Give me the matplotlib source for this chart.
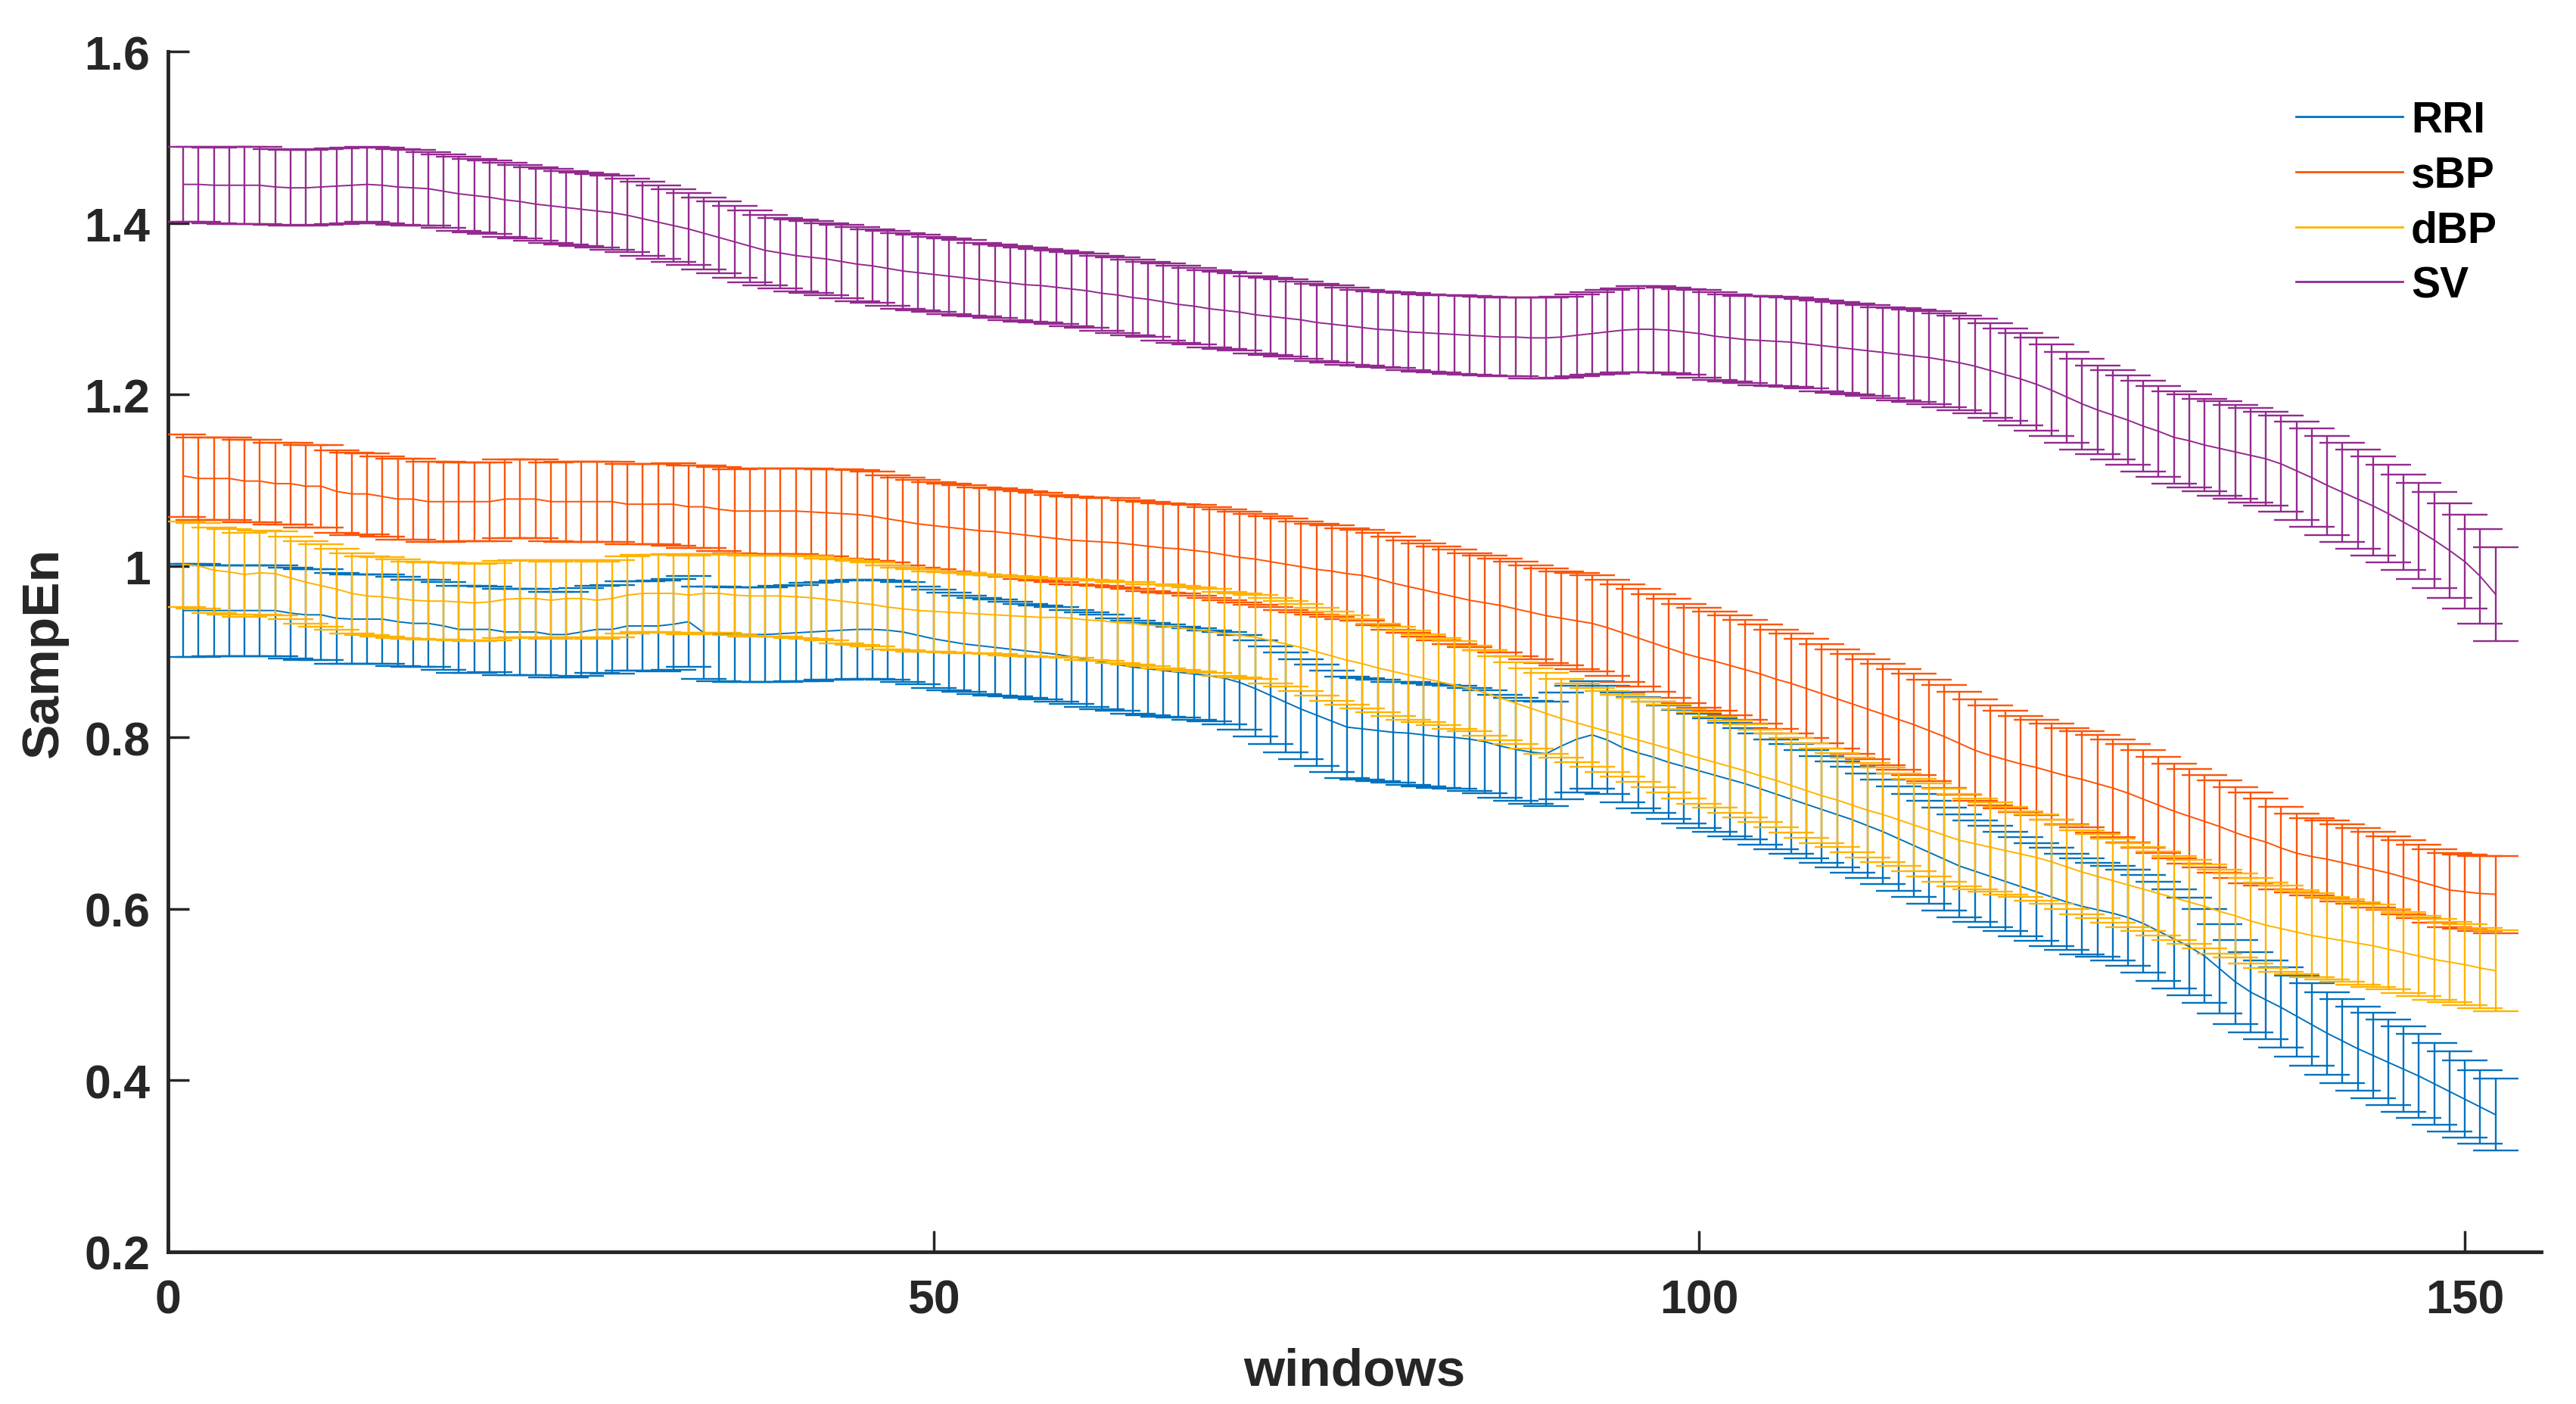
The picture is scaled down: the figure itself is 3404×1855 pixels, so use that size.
# Mean SampEn per window for RRI / sBP / dBP / SV with error bars
# (MATLAB style errorbar plot redrawn with matplotlib)

import numpy as np
import matplotlib
matplotlib.use('Agg')
import matplotlib.pyplot as plt
from matplotlib.lines import Line2D

#~()~()~()~()~()~()~()~()~()~()~()~()~()~()~()~()~()~()~()~()~()~()~()~()~()~()~()~#
# Data (window index 1..152)

windows = np.arange(1, 153)

rri_mean = [0.948, 0.948, 0.948, 0.948, 0.948, 0.948, 0.948, 0.945, 0.943, 0.943,
            0.939, 0.938, 0.938, 0.938, 0.935, 0.933, 0.933, 0.930, 0.926, 0.926,
            0.926, 0.923, 0.923, 0.923, 0.920, 0.920, 0.923, 0.926, 0.926, 0.930,
            0.930, 0.930, 0.932, 0.935, 0.922, 0.921, 0.920, 0.920, 0.920, 0.921,
            0.922, 0.923, 0.924, 0.925, 0.926, 0.926, 0.925, 0.923, 0.919, 0.915,
            0.912, 0.909, 0.907, 0.905, 0.903, 0.901, 0.899, 0.897, 0.894, 0.891,
            0.888, 0.885, 0.882, 0.880, 0.878, 0.876, 0.874, 0.872, 0.869, 0.864,
            0.857, 0.849, 0.841, 0.833, 0.826, 0.819, 0.812, 0.810, 0.808, 0.806,
            0.805, 0.803, 0.801, 0.800, 0.798, 0.795, 0.790, 0.786, 0.783, 0.781,
            0.790, 0.798, 0.803, 0.797, 0.788, 0.782, 0.777, 0.771, 0.766, 0.761,
            0.756, 0.751, 0.746, 0.740, 0.734, 0.728, 0.722, 0.716, 0.710, 0.704,
            0.697, 0.690, 0.682, 0.674, 0.666, 0.658, 0.650, 0.644, 0.638, 0.632,
            0.626, 0.620, 0.614, 0.608, 0.603, 0.599, 0.595, 0.590, 0.583, 0.574,
            0.565, 0.556, 0.545, 0.530, 0.515, 0.503, 0.494, 0.485, 0.475, 0.465,
            0.455, 0.446, 0.437, 0.429, 0.421, 0.413, 0.405, 0.396, 0.387, 0.378,
            0.369, 0.360]
rri_err = [0.054, 0.054, 0.053, 0.053, 0.053, 0.053, 0.053, 0.053, 0.053, 0.053,
           0.053, 0.052, 0.052, 0.052, 0.052, 0.051, 0.051, 0.051, 0.051, 0.051,
           0.050, 0.050, 0.050, 0.050, 0.050, 0.050, 0.051, 0.051, 0.052, 0.052,
           0.052, 0.053, 0.053, 0.053, 0.054, 0.055, 0.055, 0.055, 0.055, 0.056,
           0.056, 0.057, 0.057, 0.058, 0.058, 0.058, 0.058, 0.058, 0.057, 0.057,
           0.057, 0.056, 0.056, 0.056, 0.055, 0.055, 0.055, 0.055, 0.055, 0.055,
           0.055, 0.054, 0.054, 0.054, 0.054, 0.053, 0.053, 0.053, 0.054, 0.055,
           0.056, 0.057, 0.058, 0.058, 0.059, 0.059, 0.059, 0.059, 0.059, 0.059,
           0.060, 0.060, 0.060, 0.060, 0.060, 0.060, 0.060, 0.060, 0.060, 0.061,
           0.062, 0.062, 0.063, 0.063, 0.064, 0.065, 0.065, 0.066, 0.066, 0.067,
           0.066, 0.066, 0.065, 0.065, 0.064, 0.064, 0.063, 0.062, 0.062, 0.062,
           0.061, 0.061, 0.061, 0.060, 0.060, 0.060, 0.060, 0.059, 0.059, 0.058,
           0.058, 0.057, 0.057, 0.056, 0.056, 0.055, 0.055, 0.056, 0.057, 0.058,
           0.058, 0.057, 0.055, 0.052, 0.049, 0.047, 0.046, 0.047, 0.047, 0.048,
           0.048, 0.049, 0.049, 0.050, 0.050, 0.050, 0.049, 0.048, 0.047, 0.045,
           0.043, 0.042]

sbp_mean = [1.105, 1.102, 1.102, 1.102, 1.099, 1.099, 1.096, 1.096, 1.093, 1.093,
            1.087, 1.084, 1.084, 1.081, 1.078, 1.078, 1.075, 1.075, 1.075, 1.075,
            1.075, 1.078, 1.078, 1.078, 1.075, 1.075, 1.075, 1.075, 1.075, 1.072,
            1.072, 1.072, 1.072, 1.069, 1.069, 1.066, 1.064, 1.064, 1.064, 1.064,
            1.064, 1.063, 1.062, 1.061, 1.060, 1.058, 1.055, 1.052, 1.049, 1.047,
            1.045, 1.043, 1.041, 1.040, 1.038, 1.036, 1.034, 1.032, 1.030, 1.029,
            1.028, 1.027, 1.025, 1.023, 1.021, 1.020, 1.018, 1.016, 1.013, 1.010,
            1.008, 1.005, 1.002, 0.999, 0.996, 0.994, 0.991, 0.989, 0.985, 0.980,
            0.976, 0.972, 0.968, 0.964, 0.960, 0.957, 0.954, 0.950, 0.946, 0.942,
            0.939, 0.936, 0.933, 0.928, 0.922, 0.916, 0.910, 0.904, 0.898, 0.893,
            0.889, 0.884, 0.879, 0.874, 0.868, 0.863, 0.857, 0.851, 0.845, 0.839,
            0.833, 0.827, 0.821, 0.815, 0.808, 0.801, 0.793, 0.785, 0.779, 0.774,
            0.769, 0.765, 0.760, 0.755, 0.751, 0.746, 0.741, 0.735, 0.728, 0.721,
            0.714, 0.708, 0.702, 0.696, 0.689, 0.683, 0.678, 0.671, 0.665, 0.661,
            0.658, 0.654, 0.650, 0.646, 0.642, 0.637, 0.632, 0.627, 0.622, 0.620,
            0.618, 0.617]
sbp_err = [0.048, 0.048, 0.048, 0.048, 0.048, 0.048, 0.048, 0.048, 0.048, 0.048,
           0.048, 0.048, 0.047, 0.047, 0.047, 0.047, 0.047, 0.047, 0.046, 0.046,
           0.046, 0.046, 0.046, 0.046, 0.046, 0.047, 0.047, 0.047, 0.047, 0.047,
           0.047, 0.047, 0.048, 0.048, 0.048, 0.049, 0.049, 0.050, 0.050, 0.050,
           0.050, 0.051, 0.051, 0.052, 0.052, 0.052, 0.051, 0.051, 0.051, 0.051,
           0.051, 0.051, 0.051, 0.051, 0.051, 0.051, 0.051, 0.051, 0.051, 0.051,
           0.051, 0.052, 0.052, 0.052, 0.052, 0.052, 0.053, 0.053, 0.053, 0.053,
           0.053, 0.053, 0.053, 0.053, 0.053, 0.053, 0.053, 0.053, 0.054, 0.054,
           0.054, 0.054, 0.055, 0.055, 0.055, 0.055, 0.055, 0.055, 0.055, 0.055,
           0.055, 0.056, 0.056, 0.056, 0.057, 0.057, 0.057, 0.058, 0.058, 0.058,
           0.058, 0.058, 0.058, 0.058, 0.058, 0.058, 0.058, 0.058, 0.058, 0.058,
           0.058, 0.059, 0.059, 0.059, 0.059, 0.060, 0.060, 0.059, 0.058, 0.057,
           0.056, 0.056, 0.056, 0.056, 0.056, 0.057, 0.057, 0.057, 0.057, 0.056,
           0.055, 0.055, 0.054, 0.054, 0.053, 0.053, 0.051, 0.048, 0.046, 0.045,
           0.045, 0.045, 0.044, 0.044, 0.043, 0.043, 0.043, 0.043, 0.043, 0.043,
           0.044, 0.045]

dbp_mean = [1.002, 1.000, 0.995, 0.993, 0.990, 0.992, 0.991, 0.986, 0.981, 0.977,
            0.973, 0.968, 0.965, 0.964, 0.962, 0.960, 0.959, 0.959, 0.958, 0.957,
            0.958, 0.961, 0.962, 0.962, 0.960, 0.962, 0.962, 0.960, 0.962, 0.966,
            0.968, 0.968, 0.968, 0.966, 0.968, 0.968, 0.966, 0.965, 0.965, 0.965,
            0.964, 0.963, 0.961, 0.959, 0.957, 0.955, 0.952, 0.950, 0.948, 0.947,
            0.946, 0.945, 0.944, 0.943, 0.942, 0.941, 0.940, 0.940, 0.939, 0.937,
            0.936, 0.934, 0.933, 0.931, 0.930, 0.928, 0.926, 0.924, 0.921, 0.919,
            0.917, 0.913, 0.909, 0.905, 0.900, 0.895, 0.890, 0.886, 0.881, 0.877,
            0.873, 0.869, 0.865, 0.861, 0.857, 0.852, 0.846, 0.840, 0.834, 0.828,
            0.822, 0.817, 0.812, 0.807, 0.802, 0.797, 0.792, 0.787, 0.781, 0.776,
            0.771, 0.766, 0.761, 0.755, 0.750, 0.744, 0.738, 0.732, 0.727, 0.721,
            0.715, 0.710, 0.704, 0.698, 0.692, 0.686, 0.680, 0.676, 0.672, 0.668,
            0.664, 0.660, 0.655, 0.649, 0.643, 0.638, 0.633, 0.628, 0.623, 0.618,
            0.613, 0.608, 0.603, 0.597, 0.592, 0.586, 0.581, 0.577, 0.573, 0.569,
            0.566, 0.563, 0.560, 0.557, 0.553, 0.549, 0.545, 0.541, 0.538, 0.535,
            0.531, 0.528]
dbp_err = [0.050, 0.050, 0.050, 0.050, 0.049, 0.049, 0.049, 0.048, 0.048, 0.048,
           0.047, 0.047, 0.046, 0.046, 0.046, 0.045, 0.045, 0.045, 0.045, 0.045,
           0.045, 0.045, 0.045, 0.045, 0.045, 0.045, 0.045, 0.045, 0.045, 0.045,
           0.045, 0.045, 0.046, 0.046, 0.046, 0.046, 0.047, 0.047, 0.047, 0.047,
           0.048, 0.048, 0.048, 0.049, 0.049, 0.049, 0.049, 0.048, 0.048, 0.047,
           0.047, 0.047, 0.046, 0.046, 0.046, 0.046, 0.046, 0.046, 0.046, 0.047,
           0.047, 0.047, 0.048, 0.048, 0.049, 0.049, 0.049, 0.049, 0.049, 0.049,
           0.049, 0.050, 0.050, 0.051, 0.051, 0.052, 0.052, 0.052, 0.052, 0.052,
           0.052, 0.051, 0.051, 0.051, 0.050, 0.050, 0.049, 0.048, 0.047, 0.047,
           0.046, 0.046, 0.046, 0.047, 0.048, 0.049, 0.050, 0.051, 0.052, 0.053,
           0.053, 0.054, 0.054, 0.054, 0.055, 0.055, 0.055, 0.055, 0.055, 0.055,
           0.055, 0.055, 0.054, 0.054, 0.054, 0.054, 0.054, 0.053, 0.052, 0.051,
           0.050, 0.050, 0.049, 0.049, 0.049, 0.049, 0.049, 0.049, 0.049, 0.049,
           0.049, 0.049, 0.049, 0.049, 0.049, 0.050, 0.050, 0.050, 0.049, 0.049,
           0.048, 0.048, 0.048, 0.048, 0.047, 0.047, 0.047, 0.047, 0.047, 0.047,
           0.047, 0.047]

sv_mean = [1.445, 1.445, 1.444, 1.444, 1.444, 1.444, 1.442, 1.441, 1.441, 1.442,
           1.443, 1.444, 1.445, 1.444, 1.442, 1.441, 1.440, 1.437, 1.434, 1.432,
           1.430, 1.427, 1.425, 1.422, 1.420, 1.418, 1.416, 1.414, 1.412, 1.409,
           1.405, 1.401, 1.397, 1.393, 1.388, 1.383, 1.378, 1.373, 1.368, 1.365,
           1.362, 1.360, 1.358, 1.355, 1.352, 1.350, 1.347, 1.344, 1.342, 1.340,
           1.338, 1.336, 1.334, 1.332, 1.330, 1.328, 1.327, 1.325, 1.323, 1.321,
           1.318, 1.316, 1.313, 1.311, 1.308, 1.305, 1.303, 1.300, 1.298, 1.296,
           1.293, 1.291, 1.289, 1.287, 1.284, 1.282, 1.280, 1.278, 1.276, 1.275,
           1.273, 1.272, 1.271, 1.270, 1.269, 1.268, 1.267, 1.267, 1.266, 1.266,
           1.267, 1.269, 1.271, 1.273, 1.275, 1.276, 1.276, 1.275, 1.273, 1.271,
           1.268, 1.266, 1.264, 1.263, 1.262, 1.261, 1.259, 1.257, 1.255, 1.253,
           1.251, 1.249, 1.247, 1.245, 1.243, 1.240, 1.237, 1.233, 1.228, 1.223,
           1.218, 1.212, 1.205, 1.197, 1.189, 1.182, 1.176, 1.170, 1.163, 1.157,
           1.150, 1.146, 1.141, 1.137, 1.133, 1.129, 1.125, 1.119, 1.111, 1.103,
           1.094, 1.086, 1.078, 1.070, 1.061, 1.051, 1.041, 1.030, 1.018, 1.005,
           0.988, 0.967]
sv_err = [0.044, 0.044, 0.044, 0.045, 0.045, 0.045, 0.044, 0.044, 0.044, 0.044,
          0.044, 0.044, 0.044, 0.044, 0.044, 0.044, 0.043, 0.043, 0.043, 0.043,
          0.043, 0.043, 0.043, 0.043, 0.043, 0.043, 0.043, 0.043, 0.043, 0.043,
          0.043, 0.043, 0.042, 0.042, 0.042, 0.042, 0.042, 0.042, 0.041, 0.041,
          0.042, 0.042, 0.042, 0.043, 0.043, 0.043, 0.044, 0.044, 0.044, 0.044,
          0.044, 0.044, 0.043, 0.043, 0.043, 0.043, 0.043, 0.043, 0.043, 0.043,
          0.044, 0.044, 0.044, 0.044, 0.045, 0.045, 0.045, 0.045, 0.045, 0.045,
          0.045, 0.045, 0.045, 0.045, 0.045, 0.045, 0.045, 0.044, 0.044, 0.044,
          0.045, 0.045, 0.045, 0.046, 0.046, 0.046, 0.046, 0.046, 0.047, 0.047,
          0.047, 0.048, 0.048, 0.049, 0.049, 0.050, 0.050, 0.050, 0.050, 0.051,
          0.051, 0.051, 0.051, 0.052, 0.052, 0.052, 0.052, 0.053, 0.053, 0.053,
          0.053, 0.053, 0.054, 0.054, 0.054, 0.055, 0.055, 0.055, 0.055, 0.054,
          0.054, 0.054, 0.053, 0.053, 0.053, 0.052, 0.052, 0.052, 0.053, 0.053,
          0.054, 0.054, 0.054, 0.055, 0.055, 0.055, 0.055, 0.056, 0.057, 0.057,
          0.058, 0.058, 0.058, 0.058, 0.057, 0.056, 0.056, 0.056, 0.055, 0.055,
          0.055, 0.055]

series_names = ['RRI', 'sBP', 'dBP', 'SV']
series_colours = ['#0072BD', '#FC5508', '#FFB300', '#932A8F']

y_ticks = [0.2, 0.4, 0.6, 0.8, 1.0, 1.2, 1.4, 1.6]
y_tick_labels = ['0.2', '0.4', '0.6', '0.8', '1', '1.2', '1.4', '1.6']
x_ticks = [0, 50, 100, 150]

#~()~()~()~()~()~()~()~()~()~()~()~()~()~()~()~()~()~()~()~()~()~()~()~()~()~()~()~#
def plot_sampen_windows():
    """
    Errorbar plot of SampEn for each window
    """
    plt.rcParams['font.family'] = ['Liberation Sans', 'DejaVu Sans']
    plt.rcParams['font.weight'] = 'bold'

    axis_col = '#262626'

    fig = plt.figure(figsize=(34.05, 18.56), dpi=100)
    ax = fig.add_axes([0.0652, 0.1083, 0.9211, 0.8545])

    means = [rri_mean, sbp_mean, dbp_mean, sv_mean]
    errs = [rri_err, sbp_err, dbp_err, sv_err]

    for ind, (name, colour) in enumerate(zip(series_names, series_colours)):
        ax.errorbar(windows, means[ind], yerr=errs[ind], color=colour,
                    linewidth=1.4, elinewidth=1.7, capsize=21.5, capthick=1.7,
                    zorder=2 + ind)

    ax.set_xlim(0, 155)
    ax.set_ylim(0.2, 1.6)
    ax.set_xticks(x_ticks)
    ax.set_yticks(y_ticks)
    ax.set_yticklabels(y_tick_labels)

    # MATLAB look: box off, ticks pointing in
    ax.spines['top'].set_visible(False)
    ax.spines['right'].set_visible(False)
    for side in ['left', 'bottom']:
        ax.spines[side].set_linewidth(3.5)
        ax.spines[side].set_color(axis_col)
    ax.tick_params(direction='in', length=20, width=2.5, color=axis_col,
                   labelsize=45, labelcolor=axis_col)
    ax.tick_params(axis='x', pad=25)
    ax.tick_params(axis='y', pad=17)
    for lab in ax.get_xticklabels() + ax.get_yticklabels():
        lab.set_fontweight('bold')

    ax.set_xlabel('windows', fontsize=50, fontweight='bold', color=axis_col)
    ax.set_ylabel('SampEn', fontsize=50, fontweight='bold', color=axis_col)
    ax.xaxis.set_label_coords(0.5, -0.079)
    ax.yaxis.set_label_coords(-0.042, 0.5)

    # Legend with plain line handles
    handles = [Line2D([0], [0], color=c, linewidth=2.0) for c in series_colours]
    fig.legend(handles, series_names, loc='upper left',
               bbox_to_anchor=(3034 / 3405, 1 - 133 / 1856), frameon=False,
               prop={'size': 41, 'weight': 'bold'}, handlelength=2.47,
               handletextpad=0.2, labelspacing=0.33, borderpad=0,
               borderaxespad=0)

    plt.savefig('out.png', dpi=100)

#~()~()~()~()~()~()~()~()~()~()~()~()~()~()~()~()~()~()~()~()~()~()~()~()~()~()~()~#
if __name__ == '__main__':
    plot_sampen_windows()
